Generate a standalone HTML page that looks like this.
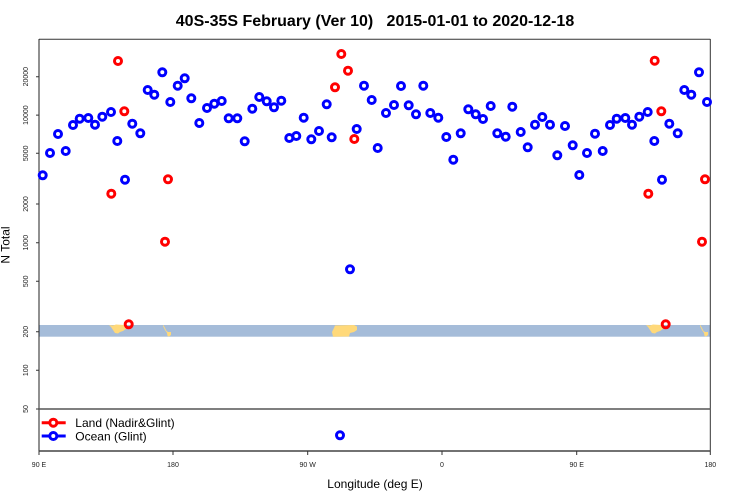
<!DOCTYPE html>
<html><head><meta charset="utf-8">
<style>
html,body{margin:0;padding:0;background:#fff;}
svg{display:block;}
text{font-family:"Liberation Sans",Arial,sans-serif;}
</style></head>
<body>
<svg width="750" height="500" viewBox="0 0 750 500" xmlns="http://www.w3.org/2000/svg">
<defs>
<marker id="mb" markerWidth="12" markerHeight="12" refX="6" refY="6" markerUnits="userSpaceOnUse" overflow="visible"><circle cx="6" cy="6" r="3.5" fill="none" stroke="#0000ff" stroke-width="3"/></marker>
<marker id="mr" markerWidth="12" markerHeight="12" refX="6" refY="6" markerUnits="userSpaceOnUse" overflow="visible"><circle cx="6" cy="6" r="3.5" fill="none" stroke="#ff0000" stroke-width="3"/></marker>
</defs>
<rect width="750" height="500" fill="#fff"/>
<text x="375" y="26" font-size="16" font-weight="bold" text-anchor="middle" fill="#000" xml:space="preserve">40S-35S February (Ver 10)   2015-01-01 to 2020-12-18</text>
<rect x="39" y="325" width="671" height="11.7" fill="#a5bcd9"/>
<g fill="#ffd97a">
<polygon points="109,325 113,325.5 116,324.5 124,325 127.5,326 126,329 123,331 120,332 118,333.5 115,333 113,330 111,327"/>
<polygon points="163.5,325 165,328 166.5,331 168,332 171,332 171,335 169,336.5 167.5,336 167,333 165,330 163,326"/>
<polygon points="335,325.5 354,325 357,326.5 357,330 354,332 350,333 349,336.5 333,336.7 332,332 334,328"/>
<polygon points="646,325 650,325.5 653,324.5 661,325 664.5,326 663,329 660,331 657,332 655,333.5 652,333 650,330 648,327"/>
<polygon points="700.5,325 702,328 703.5,331 705,332 708,332 708,335 706,336.5 704.5,336 704,333 702,330 700,326"/>
</g>
<g stroke-width="1">
<path d="M39 39.3H710.3M710.3 39V451" stroke="#333"/>
<path d="M39 39V451" stroke="#222"/>
</g>
<path d="M39 409H710.3" stroke="#555" stroke-width="1.5"/>
<path d="M39 451H710.3" stroke="#444" stroke-width="1.6"/>
<path d="M36 76.7h3M36 115.1h3M36 153.3h3M36 204h3M36 242.7h3M36 281.3h3M36 331.7h3M36 370.3h3M36 409h3" stroke="#333" stroke-width="1"/>
<g font-size="7" fill="#222" text-anchor="middle">
<text transform="translate(28,76.7) rotate(-90)">20000</text>
<text transform="translate(28,115.1) rotate(-90)">10000</text>
<text transform="translate(28,153.3) rotate(-90)">5000</text>
<text transform="translate(28,204) rotate(-90)">2000</text>
<text transform="translate(28,242.7) rotate(-90)">1000</text>
<text transform="translate(28,281.3) rotate(-90)">500</text>
<text transform="translate(28,331.7) rotate(-90)">200</text>
<text transform="translate(28,370.3) rotate(-90)">100</text>
<text transform="translate(28,409) rotate(-90)">50</text>
</g>
<text transform="translate(9.5,245) rotate(-90)" font-size="12" text-anchor="middle" fill="#000">N Total</text>
<path d="M39 451v4M173 451v4M307.7 451v4M442 451v4M576.7 451v4M710.3 451v4" stroke="#333" stroke-width="1"/>
<g font-size="7" fill="#222" text-anchor="middle">
<text x="39" y="467">90 E</text>
<text x="173" y="467">180</text>
<text x="307.7" y="467">90 W</text>
<text x="442" y="467">0</text>
<text x="576.7" y="467">90 E</text>
<text x="710.3" y="467">180</text>
</g>
<text x="375" y="488" font-size="12" text-anchor="middle" fill="#000">Longitude (deg E)</text>
<path d="M41.7 422.7H65.7" stroke="#ff0000" stroke-width="3"/>
<circle cx="53.3" cy="422.7" r="3.5" fill="#fff" stroke="#ff0000" stroke-width="3"/>
<text x="75.3" y="427" font-size="12" fill="#000">Land (Nadir&amp;Glint)</text>
<path d="M41.7 436H65.7" stroke="#0000ff" stroke-width="3"/>
<circle cx="53.3" cy="436" r="3.5" fill="#fff" stroke="#0000ff" stroke-width="3"/>
<text x="75.3" y="440.5" font-size="12" fill="#000">Ocean (Glint)</text>
<polyline fill="none" stroke="none" marker-start="url(#mb)" marker-mid="url(#mb)" marker-end="url(#mb)" points="42.7,175.3 50,153 58,134 65.7,151 73,125 79.7,118.7 88.3,118 95,124.7 102.3,116.7 111,112 117.3,141 125,179.7 132.3,123.7 140.3,133.3 147.7,90 154.3,94.7 162.3,72.3 170.3,102 177.7,85.7 184.7,78.3 191.3,98.3 199.3,123 207,108 214.3,103.7 221.7,101 228.7,118.3 237.3,118.3 244.7,141.3 252.3,108.7 259.3,97 266.7,101.3 274,107.3 281.3,100.7 289.3,138 296.3,136 303.7,117.7 311.3,139.3 319,131 326.7,104.3 331.7,137.3 356.7,129 364,85.7 371.7,100 377.7,148 386,113 394,105 401,86 408.7,105.3 416,114.3 423.3,85.7 430.3,113 438.3,117.7 446.3,137 453.3,159.7 460.7,133.3 468.3,109.3 475.7,114.3 483,119 490.7,106 497.3,133.3 505.7,136.7 512.3,106.7 520.7,132 527.7,147.3 535,124.7 542.3,117 550,124.7 557.3,155.3 565,126 572.7,145.3 579.3,175 587,153 595,133.7 602.7,151 610,125 616.7,118.7 625.3,118 632,124.7 639.3,116.7 647.7,112 654.3,141 662,179.7 669.3,123.7 677.7,133.3 684.3,90 691.3,94.7 699,72.3 707,102 350,269.3 340,435.3"/>
<polyline fill="none" stroke="none" marker-start="url(#mr)" marker-mid="url(#mr)" marker-end="url(#mr)" points="118,61 124.3,111.3 111.3,193.7 168,179.3 165,241.7 128.7,324.3 341.3,54 348,70.7 335,87.3 354.3,139 654.7,60.7 661.3,111.3 648.3,193.7 705,179.3 702,241.7 665.7,324.3"/>
</svg>
</body></html>
